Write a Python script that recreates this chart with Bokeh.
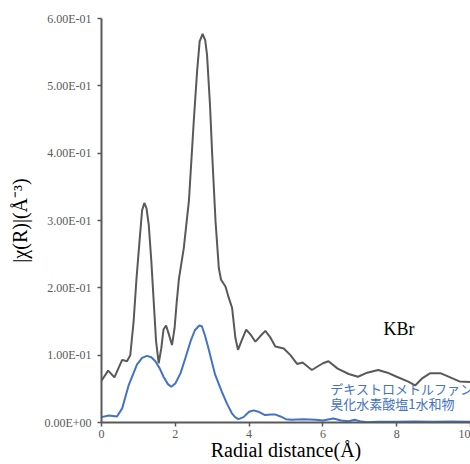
from bokeh.plotting import figure
from bokeh.models import Range1d, Label, FixedTicker, CustomJSTickFormatter
from bokeh.embed import file_html
from bokeh.resources import INLINE

# KBr (gray) |chi(R)| data
kbr_x = [0.0, 0.18, 0.35, 0.56, 0.69, 0.78, 0.87, 0.95, 1.03, 1.10, 1.16, 1.22, 1.28, 1.35, 1.42, 1.48,
         1.55, 1.62, 1.68, 1.75, 1.82, 1.91, 1.98, 2.04, 2.10, 2.23, 2.37, 2.50, 2.59, 2.66, 2.74, 2.81,
         2.86, 2.94, 3.00, 3.09, 3.18, 3.24, 3.36, 3.45, 3.54, 3.63, 3.70, 3.80, 3.92, 4.05, 4.17, 4.30,
         4.44, 4.58, 4.71, 4.94, 5.12, 5.30, 5.45, 5.70, 6.00, 6.15, 6.40, 6.70, 6.95, 7.20, 7.50, 7.75,
         8.00, 8.30, 8.50, 8.70, 8.90, 9.20, 9.45, 9.70, 10.0]
kbr_y = [0.062, 0.077, 0.067, 0.093, 0.091, 0.100, 0.150, 0.215, 0.269, 0.315, 0.326, 0.318, 0.294, 0.240, 0.175, 0.120,
         0.088, 0.110, 0.138, 0.144, 0.132, 0.115, 0.140, 0.180, 0.214, 0.259, 0.330, 0.447, 0.521, 0.566, 0.577, 0.568,
         0.546, 0.472, 0.398, 0.299, 0.229, 0.212, 0.202, 0.185, 0.170, 0.125, 0.108, 0.122, 0.138, 0.130, 0.120, 0.128,
         0.136, 0.126, 0.113, 0.110, 0.100, 0.087, 0.089, 0.078, 0.088, 0.091, 0.080, 0.072, 0.068, 0.074, 0.078, 0.074,
         0.068, 0.061, 0.055, 0.066, 0.073, 0.073, 0.067, 0.061, 0.060]

# Dextromethorphan HBr monohydrate (blue) data
dxm_x = [0.0, 0.2, 0.42, 0.56, 0.74, 0.96, 1.10, 1.23, 1.35, 1.46, 1.58, 1.68, 1.80, 1.89, 2.00, 2.14,
         2.28, 2.41, 2.53, 2.65, 2.72, 2.80, 2.90, 3.00, 3.08, 3.18, 3.26, 3.40, 3.53, 3.62, 3.71, 3.85,
         4.00, 4.12, 4.25, 4.43, 4.60, 4.70, 4.85, 5.00, 5.15, 5.47, 5.80, 6.00, 6.28, 6.50, 6.70, 6.86,
         7.00, 7.20, 7.50, 8.00, 8.50, 9.00, 9.50, 10.0]
dxm_y = [0.008, 0.0105, 0.009, 0.021, 0.056, 0.086, 0.096, 0.099, 0.097, 0.091, 0.080, 0.068, 0.057, 0.053, 0.058, 0.073,
         0.097, 0.120, 0.137, 0.144, 0.143, 0.130, 0.110, 0.088, 0.071, 0.057, 0.046, 0.028, 0.014, 0.008, 0.005, 0.008,
         0.016, 0.018, 0.016, 0.011, 0.012, 0.012, 0.009, 0.005, 0.004, 0.005, 0.004, 0.003, 0.006, 0.003, 0.002, 0.004,
         0.002, 0.0005, 0.001, 0.001, 0.0015, 0.001, 0.0015, 0.001]

x_ticks = [0, 2, 4, 6, 8, 10]
y_ticks = [0.0, 0.1, 0.2, 0.3, 0.4, 0.5, 0.6]

label_kbr = "KBr"
label_dxm_1 = "デキストロメトルファン"
label_dxm_2 = "臭化水素酸塩1水和物"

GRAY = "#595959"
BLUE = "#4472C4"
SERIF = "Times New Roman"
CJK = "Noto Sans CJK JP"

p = figure(width=470, height=464, output_backend="svg", toolbar_location=None,
           x_range=Range1d(0, 10), y_range=Range1d(0, 0.6),
           min_border_left=101, min_border_right=0, min_border_top=18, min_border_bottom=42)
p.outline_line_color = None
p.xgrid.visible = False
p.ygrid.visible = False
p.background_fill_color = "white"
p.border_fill_color = "white"

p.line(kbr_x, kbr_y, line_color=GRAY, line_width=2)
p.line(dxm_x, dxm_y, line_color=BLUE, line_width=2)

p.xaxis.ticker = FixedTicker(ticks=x_ticks)
p.yaxis.ticker = FixedTicker(ticks=y_ticks)
p.yaxis.formatter = CustomJSTickFormatter(code="""
const s = tick.toExponential(2).toUpperCase();
const parts = s.split('E');
const e = parts[1];
const sign = e[0];
const d = e.slice(1).padStart(2, '0');
return parts[0] + 'E' + sign + d;
""")

for ax in (p.xaxis[0], p.yaxis[0]):
    ax.axis_line_color = GRAY
    ax.axis_line_width = 2
    ax.major_tick_line_color = GRAY
    ax.major_tick_line_width = 1.5
    ax.major_tick_in = 0
    ax.major_tick_out = 4
    ax.minor_tick_line_color = None
    ax.major_label_text_font = SERIF
    ax.major_label_text_font_size = "12px"
    ax.major_label_text_color = GRAY
    ax.axis_label_text_font = SERIF
    ax.axis_label_text_font_size = "20px"
    ax.axis_label_text_font_style = "normal"
    ax.axis_label_text_color = "black"

p.xaxis.axis_label = "Radial distance(Å)"
p.xaxis.major_label_standoff = 3
p.xaxis.axis_label_standoff = -2
p.yaxis.axis_label = "|χ(R)|(Å⁻³)"
p.yaxis.major_label_standoff = 6
p.yaxis.axis_label_standoff = 10

p.add_layout(Label(x=7.64, y=0.139, text=label_kbr, text_font=SERIF, text_font_size="18px",
                   text_color="black", text_baseline="alphabetic"))
p.add_layout(Label(x=6.2, y=0.0505, text=label_dxm_1, text_font=CJK, text_font_size="13px",
                   text_color=BLUE, text_baseline="middle"))
p.add_layout(Label(x=6.2, y=0.0275, text=label_dxm_2, text_font=CJK, text_font_size="13px",
                   text_color=BLUE, text_baseline="middle"))

open("out.html", "w").write(file_html(p, INLINE))
